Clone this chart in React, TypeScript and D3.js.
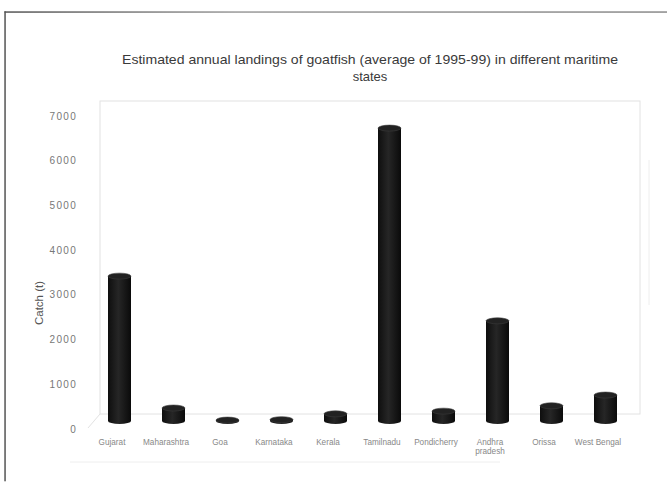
import React from "react";
import * as d3 from "d3";

const states = [
  "Gujarat",
  "Maharashtra",
  "Goa",
  "Karnataka",
  "Kerala",
  "Tamilnadu",
  "Pondicherry",
  "Andhra\npradesh",
  "Orissa",
  "West Bengal",
];
const catch_t = [3240, 290, 20, 30, 160, 6550, 220, 2240, 340, 580];
const yTicks = [0, 1000, 2000, 3000, 4000, 5000, 6000, 7000];

const W = 667;
const H = 494;

// 3D box geometry: back wall and the front (bar) plane
const wall = { left: 100, right: 640, top: 101, bottom: 414 };
const front = { left: 92.5, right: 632.5, base: 421, top: 108 };

export default function App() {
  const x = d3.scaleBand<string>().domain(states).range([front.left, front.right]).padding(0);
  const y = d3.scaleLinear().domain([0, 7000]).range([front.base, front.top]);
  const yLabel = d3.scaleLinear().domain([0, 7000]).range([430, 117]);
  const barW = 23;
  const ry = 3;

  return (
    <svg
      width={W}
      height={H}
      style={{ position: "absolute", left: 0, top: 0, background: "#fff" }}
      fontFamily="'Liberation Sans', Arial, sans-serif"
    >
      <defs>
        <linearGradient id="cyl" x1="0" x2="1" y1="0" y2="0">
          <stop offset="0" stopColor="#0e0e0e" />
          <stop offset="0.45" stopColor="#262626" />
          <stop offset="1" stopColor="#0a0a0a" />
        </linearGradient>
        <linearGradient id="frameTop" x1="0" x2="1" y1="0" y2="0">
          <stop offset="0" stopColor="#555" />
          <stop offset="0.35" stopColor="#9a9a9a" />
          <stop offset="1" stopColor="#8a8a8a" />
        </linearGradient>
      </defs>

      {/* outer frame */}
      <rect x={4.5} y={11.3} width={662.5} height={1.5} fill="url(#frameTop)" />
      <rect x={4.3} y={11.3} width={1.5} height={470} fill="#555" />
      <line x1={70} y1={462} x2={500} y2={462} stroke="#eee" strokeWidth={1} />

      {/* title */}
      <text
        x={370}
        y={64}
        textAnchor="middle"
        fontSize={13}
        fill="#3a3a3a"
        textLength={496}
        lengthAdjust="spacingAndGlyphs"
      >
        Estimated annual landings of goatfish (average of 1995-99) in different maritime
      </text>
      <text x={370} y={81} textAnchor="middle" fontSize={13} fill="#3a3a3a">
        states
      </text>

      {/* back wall and floor edges */}
      <rect
        x={wall.left}
        y={wall.top}
        width={wall.right - wall.left}
        height={wall.bottom - wall.top}
        fill="none"
        stroke="#e2e2e2"
        strokeWidth={1}
      />
      <line x1={wall.left} y1={wall.bottom} x2={88} y2={428} stroke="#e2e2e2" />
      <line x1={649} y1={160} x2={649} y2={305} stroke="#eee" />

      {/* value axis labels */}
      {yTicks.map((t) => (
        <text
          key={t}
          x={77}
          y={yLabel(t)}
          textAnchor="end"
          dominantBaseline="middle"
          fontSize={10}
          letterSpacing={1.3}
          fill="#777"
        >
          {t}
        </text>
      ))}
      <text
        transform={`translate(40,${303}) rotate(-90)`}
        textAnchor="middle"
        dominantBaseline="middle"
        fontSize={11.5}
        fill="#555"
      >
        Catch (t)
      </text>

      {/* cylinders */}
      {states.map((s, i) => {
        const cx = (x(s) as number) + x.bandwidth() / 2;
        const yt = y(catch_t[i]);
        const yb = y(0);
        return (
          <g key={s}>
            <ellipse cx={cx} cy={yb} rx={barW / 2} ry={ry} fill="url(#cyl)" />
            <rect x={cx - barW / 2} y={yt} width={barW} height={yb - yt} fill="url(#cyl)" />
            <ellipse cx={cx} cy={yt} rx={barW / 2} ry={ry} fill="#222" stroke="#3a3a3a" strokeWidth={0.6} />
          </g>
        );
      })}

      {/* category labels */}
      {states.map((s) => {
        const cx = (x(s) as number) + x.bandwidth() / 2 - 7.5;
        const lines = s.split("\n");
        return (
          <text key={s} x={cx} y={445} textAnchor="middle" fontSize={8.2} fill="#888">
            {lines.map((l, j) => (
              <tspan key={j} x={cx} dy={j === 0 ? 0 : 9}>
                {l}
              </tspan>
            ))}
          </text>
        );
      })}
    </svg>
  );
}
